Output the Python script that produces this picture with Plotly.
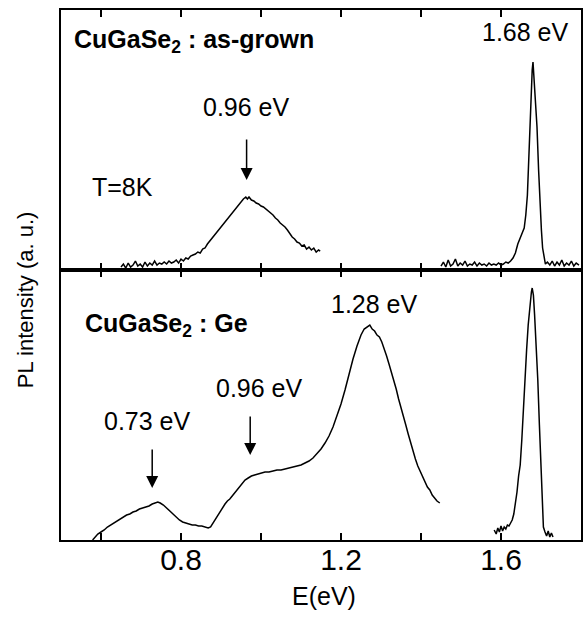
import plotly.graph_objects as go

# ---------------- data ----------------
# upper panel: as-grown, low-energy band
top_band_E = [0.650,0.656,0.662,0.668,0.674,0.680,0.686,0.692,0.698,0.704,0.710,0.716,0.722,0.728,0.734,0.740,
              0.746,0.752,0.758,0.764,0.770,0.776,0.782,0.788,0.794,0.800,0.806,0.812,0.818,0.824,0.830,0.836,
              0.842,0.848,0.854,0.860,0.866,0.872,0.878,0.884,0.890,0.896,0.902,0.908,0.914,0.920,0.926,0.932,
              0.938,0.944,0.950,0.956,0.962,0.966,0.970,0.976,0.982,0.988,0.994,1.000,1.006,1.012,1.018,1.024,
              1.030,1.036,1.042,1.048,1.054,1.060,1.066,1.072,1.078,1.084,1.090,1.096,1.102,1.108,1.114,1.120,
              1.126,1.132,1.138,1.144,1.148]
top_band_I = [3,6,2,7,3,5,9,4,6,3,8,4,7,5,9,5,
              7,6,8,6,9,7,8,10,7,11,9,12,11,14,15,16,
              18,17,21,22,26,29,33,36,39,42,45,48,51,54,57,60,
              63,66,68,71,73,71,73,70,69,67,66,64,63,61,59,57,
              55,52,50,47,45,43,40,36,33,31,28,27,24,25,21,23,
              20,22,18,20,19]

# upper panel: as-grown, band-edge emission
top_edge_E = [1.450,1.456,1.462,1.468,1.474,1.480,1.486,1.492,1.498,1.504,1.510,1.516,1.522,1.528,1.534,1.540,
              1.546,1.552,1.558,1.564,1.570,1.576,1.582,1.588,1.594,1.600,1.606,1.612,1.618,1.624,1.630,1.636,
              1.642,1.648,1.654,1.658,1.662,1.666,1.670,1.674,1.678,1.680,1.683,1.687,1.690,1.694,1.697,1.701,
              1.704,1.707,1.711,1.716,1.722,1.728,1.734,1.740,1.746,1.752,1.758,1.764,1.770,1.776,1.782,1.788,1.795]
top_edge_I = [4,8,3,10,4,6,11,4,7,5,9,4,6,5,8,4,
              7,5,6,4,7,5,6,5,7,5,6,8,7,9,12,17,
              26,33,38,42,55,75,118,165,200,208,190,160,143,100,70,40,
              22,13,6,8,5,9,4,8,5,10,4,7,5,9,4,7,5]

# lower panel: Ge-doped, deep bands
bot_band_E = [0.579,0.585,0.592,0.600,0.608,0.616,0.624,0.632,0.640,0.648,0.656,0.664,0.672,0.680,0.688,0.696,
              0.704,0.712,0.720,0.728,0.736,0.742,0.748,0.756,0.764,0.772,0.780,0.788,0.796,0.804,0.812,0.820,
              0.828,0.836,0.844,0.852,0.860,0.868,0.874,0.880,0.886,0.892,0.898,0.904,0.910,0.916,0.922,0.928,
              0.934,0.940,0.946,0.952,0.960,0.968,0.976,0.984,0.992,1.000,1.010,1.020,1.030,1.040,1.050,1.060,
              1.070,1.080,1.090,1.100,1.110,1.120,1.130,1.140,1.150,1.160,1.170,1.180,1.190,1.200,1.210,1.220,
              1.230,1.240,1.250,1.258,1.266,1.272,1.278,1.284,1.290,1.296,1.302,1.308,1.314,1.320,1.326,1.332,
              1.338,1.344,1.350,1.356,1.362,1.368,1.374,1.380,1.386,1.392,1.398,1.404,1.410,1.416,1.422,1.428,
              1.434,1.440,1.447]
bot_band_I = [0,3,6,8,10,13,15,17,19,21,23,25,26,28,29,31,
              32,33,34,36,37,38,37,35,32,29,25,22,20,18,17,16,
              15,15,14,14,13,12,13,17,21,25,29,33,36,39,41,44,
              47,51,54,57,60,62,64,65,66,67,68,68,69,70,70,71,
              72,73,74,75,77,79,82,86,91,97,104,113,124,136,150,166,
              181,194,205,211,213,215,211,209,205,203,198,192,184,176,168,159,
              151,141,133,124,115,106,97,89,81,74,69,64,58,53,50,45,
              42,39,37]

# lower panel: Ge-doped, band-edge emission
bot_edge_E = [1.583,1.588,1.592,1.596,1.600,1.604,1.608,1.612,1.616,1.620,1.624,1.628,1.632,1.636,1.640,1.644,
              1.648,1.652,1.656,1.660,1.664,1.668,1.672,1.676,1.678,1.681,1.684,1.688,1.692,1.696,1.700,1.703,
              1.706,1.710,1.714,1.718,1.722,1.726,1.730]
bot_edge_I = [10,6,12,8,14,9,13,11,15,14,17,20,26,35,48,64,
              75,100,135,165,190,215,235,248,252,245,225,195,160,115,70,35,
              13,8,4,9,3,7,3]

tick_vals = [0.6, 0.8, 1.0, 1.2, 1.4, 1.6]
tick_text = ["", "0.8", "", "1.2", "", "1.6"]

FONT = "Liberation Sans, Arial, Helvetica, sans-serif"
line = dict(color="black", width=1.5)

fig = go.Figure()
fig.add_trace(go.Scatter(x=top_band_E, y=top_band_I, mode="lines", line=line, xaxis="x2", yaxis="y2"))
fig.add_trace(go.Scatter(x=top_edge_E, y=top_edge_I, mode="lines", line=line, xaxis="x2", yaxis="y2"))
fig.add_trace(go.Scatter(x=bot_band_E, y=bot_band_I, mode="lines", line=line, xaxis="x", yaxis="y"))
fig.add_trace(go.Scatter(x=bot_edge_E, y=bot_edge_I, mode="lines", line=line, xaxis="x", yaxis="y"))

split = 0.5094
axis_common = dict(showline=True, linecolor="black", linewidth=2, mirror="ticks",
                   showgrid=False, zeroline=False)

fig.update_layout(
    width=587, height=618,
    margin=dict(l=61, r=4, t=10, b=78),
    paper_bgcolor="white", plot_bgcolor="white",
    showlegend=False,
    font=dict(family=FONT, color="black"),
    xaxis=dict(domain=[0, 1], range=[0.5, 1.8], anchor="y",
               tickvals=tick_vals, ticktext=tick_text, ticks="inside", ticklen=7, tickwidth=2,
               tickcolor="black", tickfont=dict(size=30, family=FONT), ticklabelstandoff=-8,
               **axis_common),
    xaxis2=dict(domain=[0, 1], range=[0.5, 1.8], anchor="y2", matches="x",
                tickvals=tick_vals, ticks="inside", ticklen=7, tickwidth=2, tickcolor="black",
                showticklabels=False, **axis_common),
    yaxis=dict(domain=[0, split], range=[0, 270], anchor="x", showticklabels=False, ticks="",
               showline=True, linecolor="black", linewidth=2, mirror=True, showgrid=False, zeroline=False),
    yaxis2=dict(domain=[split, 1], range=[0, 260], anchor="x2", showticklabels=False, ticks="",
                showline=True, linecolor="black", linewidth=2, mirror=True, showgrid=False, zeroline=False),
)

txt = dict(size=25, family=FONT, color="black")
ann = []
# upper panel texts
ann.append(dict(x=0.527, y=229, xref="x2", yref="y2", text="<b>CuGaSe<sub>2</sub> : as-grown</b>",
                showarrow=False, xanchor="left", yanchor="middle", font=txt))
ann.append(dict(x=1.662, y=238, xref="x2", yref="y2", text="1.68 eV", showarrow=False, font=txt))
ann.append(dict(x=0.964, y=163, xref="x2", yref="y2", text="0.96 eV", showarrow=False, font=txt))
ann.append(dict(x=0.654, y=83, xref="x2", yref="y2", text="T=8K", showarrow=False, font=txt))
ann.append(dict(x=0.964, y=90, xref="x2", yref="y2", ax=0.964, ay=132, axref="x2", ayref="y2",
                text="", showarrow=True, arrowhead=2, arrowsize=1.6, arrowwidth=1.5, arrowcolor="black"))
# lower panel texts
ann.append(dict(x=0.555, y=215, xref="x", yref="y", text="<b>CuGaSe<sub>2</sub> : Ge</b>",
                showarrow=False, xanchor="left", yanchor="middle", font=txt))
ann.append(dict(x=1.284, y=236, xref="x", yref="y", text="1.28 eV", showarrow=False, font=txt))
ann.append(dict(x=0.997, y=152, xref="x", yref="y", text="0.96 eV", showarrow=False, font=txt))
ann.append(dict(x=0.715, y=119, xref="x", yref="y", text="0.73 eV", showarrow=False, font=txt))
ann.append(dict(x=0.973, y=85, xref="x", yref="y", ax=0.973, ay=125, axref="x", ayref="y",
                text="", showarrow=True, arrowhead=2, arrowsize=1.6, arrowwidth=1.5, arrowcolor="black"))
ann.append(dict(x=0.728, y=52, xref="x", yref="y", ax=0.728, ay=92, axref="x", ayref="y",
                text="", showarrow=True, arrowhead=2, arrowsize=1.6, arrowwidth=1.5, arrowcolor="black"))
# axis titles
ann.append(dict(x=(325 - 61) / 522, y=(540 - 596) / 530, xref="paper", yref="paper", text="E(eV)",
                xanchor="center", yanchor="middle", showarrow=False,
                font=dict(size=25, family=FONT, color="black")))
ann.append(dict(x=(25 - 61) / 522, y=(540 - 300) / 530, xref="paper", yref="paper",
                text="PL intensity (a. u.)", textangle=-90, xanchor="center", yanchor="middle",
                showarrow=False, font=dict(size=22, family=FONT, color="black")))
fig.update_layout(annotations=ann)

fig.write_html("out.html", config={"displayModeBar": False},
               post_script="document.body.style.margin='0';")
